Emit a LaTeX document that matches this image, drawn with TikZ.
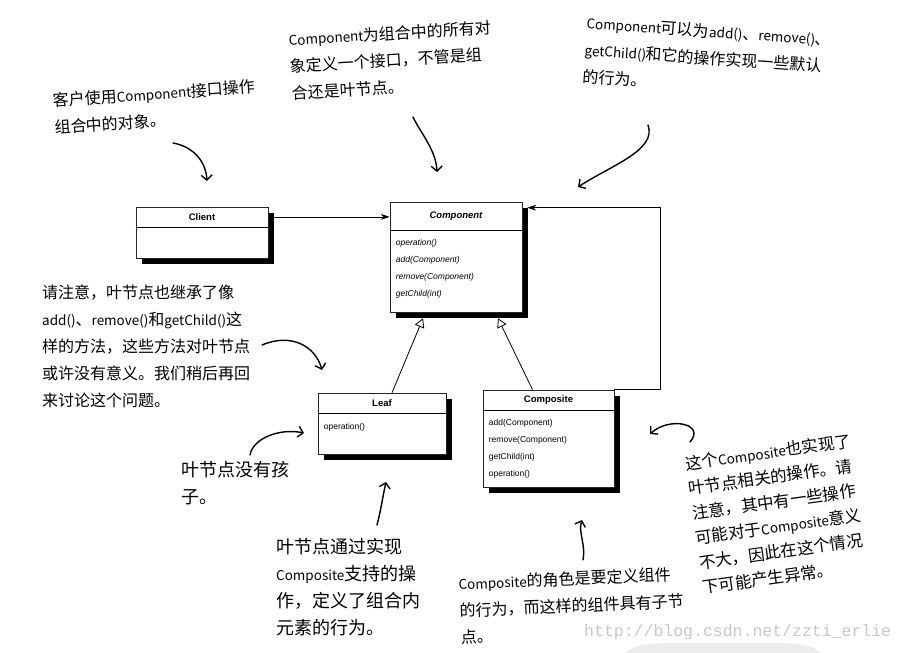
\documentclass[tikz,border=0pt]{standalone}
\usepackage{fontspec}
\setmainfont{Liberation Sans}
\setmonofont{Liberation Mono}
\newfontfamily\cjk{Noto Sans CJK SC}
\newcommand\hwlatin[1]{{\fontsize{13.5}{12}\selectfont #1}}
\usetikzlibrary{positioning,arrows.meta,shadows}

\begin{document}
\begin{tikzpicture}[x=1pt,y=-1pt,
  classbox/.style={draw=black!85,fill=white,line width=0.6pt,inner sep=0pt,
    drop shadow={shadow xshift=5.5pt,shadow yshift=-5.5pt,fill=black,opacity=1}},
  classhead/.style={inner sep=0pt,minimum height=20pt,font=\bfseries\fontsize{9.5}{11}\selectfont},
  ops/.style={inner sep=0pt,align=left,font=\fontsize{8.5}{17}\selectfont},
  opsit/.style={ops,font=\itshape\fontsize{8.5}{17}\selectfont},
  note/.style={inner sep=0pt,align=left,anchor=north west,font=\cjk\fontsize{16}{27}\selectfont},
  widenote/.style={note,font=\cjk\fontsize{18}{27}\selectfont},
  hand/.style={line width=1.4pt,line cap=round,-{Straight Barb[length=5pt,width=11pt]}},
  uml/.style={line width=0.8pt}]
  \useasboundingbox (0,0) rectangle (905,653);

  % classes
  \node[classbox,minimum width=132pt,minimum height=51pt] (client) at (202,232.5) {};
  \node[classhead,anchor=north] (client head) at (client.north) {Client};
  \draw (client.west |- client head.south) -- (client.east |- client head.south);

  \node[classbox,minimum width=132pt,minimum height=110pt] (comp) at (456,257) {};
  \node[classhead,anchor=north,minimum height=28pt,font=\bfseries\itshape\fontsize{9.5}{11}\selectfont] (comp head) at (comp.north) {Component};
  \draw (comp.west |- comp head.south) -- (comp.east |- comp head.south);
  \node[opsit,below right=9pt and 6pt] (comp ops) at (comp.west |- comp head.south)
    {operation()\\add(Component)\\remove(Component)\\getChild(int)};

  \node[classbox,minimum width=128pt,minimum height=61pt] (leaf) at (382,423.5) {};
  \node[classhead,anchor=north] (leaf head) at (leaf.north) {Leaf};
  \draw (leaf.west |- leaf head.south) -- (leaf.east |- leaf head.south);
  \node[ops,below right=10pt and 6pt] (leaf ops) at (leaf.west |- leaf head.south) {operation()};

  \node[classbox,minimum width=131pt,minimum height=97pt] (composite) at (548.5,438.5) {};
  \node[classhead,anchor=north] (composite head) at (composite.north) {Composite};
  \draw (composite.west |- composite head.south) -- (composite.east |- composite head.south);
  \node[ops,below right=9pt and 6pt] (composite ops) at (composite.west |- composite head.south)
    {add(Component)\\remove(Component)\\getChild(int)\\operation()};

  % relations
  \draw[uml,-{Stealth[length=9pt,width=6pt]}] (client.east |- client head.center) -- (comp.west |- client head.center);
  \draw[uml,-{Triangle[open,length=9pt,width=10pt]}] ([xshift=10pt]leaf.north) -- ([xshift=-33pt,yshift=-6pt]comp.south);
  \draw[uml,-{Triangle[open,length=9pt,width=10pt]}] ([xshift=-16pt]composite.north) -- ([xshift=42pt,yshift=-6pt]comp.south);
  \coordinate (agg end) at ([xshift=5pt,yshift=-6pt]comp.north east);
  \draw[uml,-{Stealth[length=9pt,width=6pt]}] (composite.north east) -- ++(46,0) |- (agg end);

  % notes
  \node[note,rotate=4] (client note) at (52,93) {客户使用\hwlatin{Component}接口操作\\组合中的对象。};
  \node[note,rotate=3.5] (iface note) at (288,32) {\hwlatin{Component}为组合中的所有对\\象定义一个接口，不管是组\\合还是叶节点。};
  \node[note,rotate=-4] (default note) at (587,15) {\hwlatin{Component}可以为\hwlatin{add()}、\hwlatin{remove()}、\\\hwlatin{getChild()}和它的操作实现一些默认\\的行为。};
  \node[note] (leaf note) at (42,285) {请注意，叶节点也继承了像\\\hwlatin{add()}、\hwlatin{remove()}和\hwlatin{getChild()}这\\样的方法，这些方法对叶节点\\或许没有意义。我们稍后再回\\来讨论这个问题。};
  \node[widenote] (child note) at (181,461) {叶节点没有孩\\子。};
  \node[widenote] (leafop note) at (276,538) {叶节点通过实现\\\hwlatin{Composite}支持的操\\作，定义了组合内\\元素的行为。};
  \node[note,rotate=2.5] (role note) at (458,576) {\hwlatin{Composite}的角色是要定义组件\\的行为，而这样的组件具有子节\\点。};
  \node[note,rotate=8,font=\cjk\fontsize{16.5}{25}\selectfont] (comp note) at (684,456)
    {这个\hwlatin{Composite}也实现了\\叶节点相关的操作。请\\注意，其中有一些操作\\可能对于\hwlatin{Composite}意义\\不大，因此在这个情况\\下可能产生异常。};

  % hand arrows
  \coordinate (a1 from) at (173,143); \coordinate (a1 to) at (207,181);
  \draw[hand] (a1 from) .. controls (195,147) and (206,163) .. (a1 to);
  \coordinate (a2 from) at (413,117); \coordinate (a2 to) at (437,172);
  \draw[hand] (a2 from) .. controls (420,132) and (436,150) .. (a2 to);
  \coordinate (a3 from) at (648,125); \coordinate (a3 to) at (578,187);
  \draw[hand] (a3 from) .. controls (657,150) and (612,165) .. (a3 to);
  \coordinate (a4 from) at (262,345); \coordinate (a4 to) at (322,370);
  \draw[hand] (a4 from) .. controls (290,333) and (315,345) .. (a4 to);
  \coordinate (a5 from) at (250,455); \coordinate (a5 to) at (304,433);
  \draw[hand] (a5 from) .. controls (253,438) and (280,428) .. (a5 to);
  \coordinate (a6 from) at (377,525); \coordinate (a6 to) at (386,482);
  \draw[hand] (a6 from) .. controls (381,510) and (383,495) .. (a6 to);
  \coordinate (a7 from) at (583,560); \coordinate (a7 to) at (582,520);
  \draw[hand] (a7 from) .. controls (586,545) and (578,532) .. (a7 to);
  \coordinate (a8 from) at (690,442); \coordinate (a8 to) at (650,434);
  \draw[hand] (a8 from) .. controls (706,424) and (670,416) .. (a8 to);

  % watermark
  \fill[black!7] (625,653) .. controls (635,644) and (650,643) .. (680,643) -- (780,643)
    .. controls (805,643) and (815,647) .. (820,653) -- cycle;
  \node[text=black!22,font=\ttfamily\fontsize{16.5}{17}\selectfont,anchor=west,inner sep=0pt] (mark) at (584,632) {http://blog.csdn.net/zzti\_erlie};
\end{tikzpicture}
\end{document}
